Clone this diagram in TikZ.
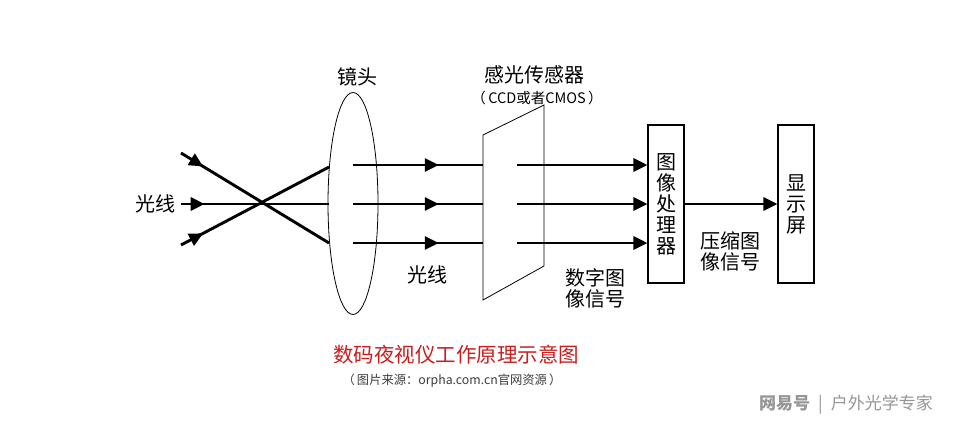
\documentclass[tikz,border=0pt]{standalone}
\usepackage{fontspec}
\setmainfont{Noto Sans CJK SC}
\usetikzlibrary{arrows.meta,decorations.markings,shapes.geometric}
\begin{document}
\begin{tikzpicture}[x=1pt,y=-1pt,
  ray/.style={line width=2.9pt},
  tipend/.style={-{Triangle[length=14pt,width=13pt]}},
  midarrow/.style={postaction={decorate},decoration={markings,mark=at position #1 with {\arrow{Triangle[length=14pt,width=13pt]}}}},
  lbl/.style={font=\fontsize{20}{22}\selectfont, inner sep=0pt},
  box/.style={draw, line width=1.1pt, minimum width=36pt, minimum height=158pt, inner sep=0pt, align=center, font=\fontsize{20}{21}\selectfont}
]
\useasboundingbox (0,0) rectangle (956,426);
\fill[white] (0,0) rectangle (956,426);

% lens
\node[draw, ellipse, line width=0.8pt, minimum width=50pt, minimum height=222pt, inner sep=0pt] (lens) at (353,203.5) {};
\node[lbl] (lenslbl) at (357,77) {镜头};

% incoming rays
\coordinate (l1s) at (181,153); \coordinate (l1e) at (329,243);
\coordinate (l2s) at (181,204); \coordinate (l2e) at (329,204);
\coordinate (l3s) at (181,245); \coordinate (l3e) at (329,167);
\draw[ray, midarrow=0.15] (l1s) -- (l1e);
\draw[ray, midarrow=0.16] (l2s) -- (l2e);
\draw[ray, midarrow=0.15] (l3s) -- (l3e);
\node[lbl] (inlbl) at (155,204) {光线};

% rays after lens
\coordinate (r1s) at (353,165); \coordinate (r1e) at (483,165);
\coordinate (r2s) at (353,204); \coordinate (r2e) at (483,204);
\coordinate (r3s) at (353,243); \coordinate (r3e) at (483,243);
\draw[ray, midarrow=0.66] (r1s) -- (r1e);
\draw[ray, midarrow=0.66] (r2s) -- (r2e);
\draw[ray, midarrow=0.66] (r3s) -- (r3e);
\node[lbl] (raylbl) at (427,275) {光线};

% sensor
\coordinate (sa) at (483,135); \coordinate (sb) at (544,105);
\coordinate (sc) at (544,266); \coordinate (sd) at (483,300);
\draw[line width=0.8pt] (sa) -- (sb) -- (sc) -- (sd) -- cycle;
\node[lbl] (senslbl) at (534,75) {感光传感器};
\node[inner sep=0pt, font=\fontsize{14.5}{16}\selectfont] (sensub) at (537,98) {（\,CCD或者CMOS\,）};

% processor and display
\node[box] (proc) at (666,204) {图\\像\\处\\理\\器};
\node[box] (disp) at (796,204) {显\\示\\屏};

\coordinate (s1s) at (517,165);
\coordinate (s2s) at (517,204);
\coordinate (s3s) at (517,243);
\draw[ray, tipend] (s1s) -- (s1s -| proc.west);
\draw[ray, tipend] (s2s) -- (s2s -| proc.west);
\draw[ray, tipend] (s3s) -- (s3s -| proc.west);
\draw[ray, tipend] (proc.east) -- (disp.west);

\node[lbl, align=center, font=\fontsize{20}{21}\selectfont] (diglbl) at (595,288) {数字图\\像信号};
\node[lbl, align=center, font=\fontsize{20}{21}\selectfont] (cmplbl) at (730,251) {压缩图\\像信号};

% title
\node[inner sep=0pt, text={rgb,255:red,200;green,30;blue,30}, font=\fontsize{20.5}{23}\selectfont] (title) at (456,355) {数码夜视仪工作原理示意图};
\node[inner sep=0pt, text={rgb,255:red,60;green,60;blue,60}, font=\fontsize{12.3}{15}\selectfont] (src) at (452,381) {（\,图片来源：orpha.com.cn官网资源\,）};

% watermark
\node[inner sep=0pt, text={rgb,255:red,150;green,150;blue,150}, font=\fontsize{17}{19}\selectfont] (wm) at (846,405) {\textbf{网易号}\hspace{8pt}|\hspace{8pt}户外光学专家};
\end{tikzpicture}
\end{document}
